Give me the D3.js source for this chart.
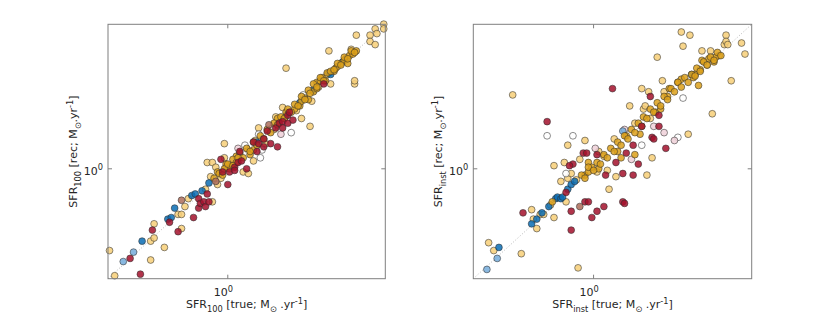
<!DOCTYPE html>
<html>
<head>
<meta charset="utf-8">
<script src="https://cdn.jsdelivr.net/npm/d3@7/dist/d3.min.js"></script>
<style>
  body { margin: 0; background: #fff; }
  text { font-family: "DejaVu Sans", sans-serif; fill: #262626; }
</style>
</head>
<body>
<div id="chart"></div>
<script>
// galaxy categories (colour groups of the markers)
const categories = ["pale", "gold", "red", "blue", "lightblue", "white", "pink", "brown"];
const catColors = ["#f7cf78", "#dca01a", "#a3112b", "#0a6db4", "#74acdb", "#ffffff", "#eed0d8", "#ad6d5a"];
// draw order, back to front
const drawOrder = [0, 5, 6, 3, 4, 1, 7, 2];

// axis limits (SFR, M_sun/yr) and ticks
const axisDomain = [0.2, 8.3];
const tickValues = [1];

// log10 SFR: [true, recovered, category]
const sfr100 = [
  [-0.69,-0.52,0],[-0.66,-0.68,0],[-0.61,-0.59,4],[-0.57,-0.57,2],[-0.55,-0.53,4],[-0.51,-0.67,2],[-0.50,-0.46,3],[-0.45,-0.46,0],[-0.45,-0.58,0],[-0.43,-0.44,0],
  [-0.43,-0.35,0],[-0.44,-0.39,2],[-0.37,-0.50,0],[-0.34,-0.34,2],[-0.35,-0.32,3],[-0.33,-0.31,3],[-0.31,-0.25,3],[-0.29,-0.29,0],[-0.27,-0.29,0],[-0.29,-0.40,2],
  [-0.27,-0.38,0],[-0.27,-0.20,7],[-0.25,-0.24,0],[-0.23,-0.19,0],[-0.21,-0.17,3],[-0.19,-0.16,3],[-0.20,-0.31,2],[-0.17,-0.25,2],[-0.17,-0.19,2],[-0.16,-0.22,2],
  [-0.14,-0.21,2],[-0.13,-0.24,2],[-0.11,-0.21,2],[-0.09,-0.21,0],[-0.15,-0.14,3],[-0.13,-0.13,0],[-0.12,-0.16,2],[-0.11,-0.09,3],[-0.10,-0.05,0],[-0.07,-0.08,7],
  [-0.06,-0.10,0],[-0.04,-0.06,0],[0.00,-0.10,2],[-0.12,0.04,0],[-0.09,0.04,0],[-0.07,0.01,0],[-0.06,-0.02,1],[-0.04,0.06,2],[-0.03,-0.02,2],[-0.02,0.07,0],
  [-0.02,0.16,0],[-0.01,0.01,0],[0.01,-0.02,2],[0.02,0.02,1],[0.04,0.01,2],[0.05,0.08,1],[0.06,0.04,2],[0.08,0.05,2],[0.04,-0.01,2],[0.09,-0.02,0],
  [0.11,0.00,2],[0.12,-0.03,0],[0.10,0.15,5],[0.06,0.13,6],[0.07,0.11,2],[0.11,0.13,0],[0.13,0.09,1],[0.15,0.05,0],[0.15,0.17,2],[0.15,0.12,1],
  [0.16,0.18,0],[0.17,0.11,2],[0.18,0.16,2],[0.19,0.07,5],[0.20,0.12,5],[0.21,0.14,2],[0.21,0.19,2],[0.22,0.16,0],[0.23,0.24,2],[0.25,0.16,2],
  [0.24,0.28,7],[0.18,0.26,0],[0.18,0.22,5],[0.26,0.26,6],[0.27,0.25,0],[0.28,0.26,2],[0.29,0.14,2],[0.30,0.29,2],[0.31,0.22,6],[0.32,0.30,2],
  [0.32,0.26,2],[0.33,0.32,0],[0.35,0.29,2],[0.28,0.33,0],[0.29,0.32,1],[0.34,0.36,1],[0.35,0.34,2],[0.36,0.36,2],[0.37,0.23,5],[0.38,0.31,2],
  [0.39,0.38,1],[0.40,0.37,0],[0.43,0.32,0],[0.48,0.27,0],[0.32,0.39,0],[0.34,0.64,0],[0.42,0.40,1],[0.43,0.43,1],[0.44,0.47,5],[0.45,0.45,1],
  [0.47,0.44,1],[0.49,0.43,0],[0.50,0.49,1],[0.52,0.51,1],[0.52,0.55,1],[0.53,0.52,0],[0.54,0.56,1],[0.55,0.58,1],[0.56,0.54,2],[0.57,0.56,1],
  [0.58,0.60,0],[0.60,0.54,0],[0.59,0.61,3],[0.62,0.62,1],[0.63,0.64,1],[0.64,0.65,0],[0.66,0.67,1],[0.67,0.68,3],[0.68,0.69,1],[0.69,0.70,0],
  [0.70,0.67,1],[0.71,0.72,1],[0.72,0.76,0],[0.73,0.73,1],[0.75,0.75,1],[0.74,0.54,0],[0.74,0.56,0],[0.59,0.75,0],[0.75,0.85,0],[0.83,0.85,0],
  [0.83,0.81,0],[0.86,0.79,0],[0.86,0.89,0],[0.87,0.86,0],[0.91,0.92,0],[0.91,0.89,0],
  [0.42,0.42,3],[0.50,0.50,3],[0.60,0.60,3],[0.34,0.34,3],[0.17,0.17,3],
  [-0.05,-0.03,1],[-0.03,-0.04,1],[-0.01,0.03,1],[0.01,0.00,1],[0.03,0.06,1],[0.05,0.04,1],[0.07,0.10,1],[0.09,0.07,1],[0.11,0.13,1],[0.13,0.11,1],
  [0.15,0.17,1],[0.17,0.15,1],[0.19,0.21,1],[0.21,0.19,1],[0.23,0.25,1],[0.25,0.23,1],[0.27,0.29,1],[0.29,0.28,1],[0.31,0.33,1],[0.33,0.32,1],
  [0.35,0.38,1],[0.37,0.36,1],[0.39,0.41,1],[0.41,0.40,1],[0.43,0.46,1],[0.45,0.44,1],[0.47,0.50,1],[0.48,0.48,1],[0.50,0.54,1],[0.52,0.52,1],
  [0.54,0.58,1],[0.56,0.56,1],[0.58,0.61,1],[0.60,0.62,1],[0.62,0.63,1],[0.64,0.67,1],[0.66,0.66,1],[0.68,0.71,1],[0.70,0.70,1],[0.72,0.75,1],
  [0.74,0.74,1],[-0.08,-0.06,1],[-0.02,0.00,1],[0.00,0.03,1],[0.03,0.02,1],[0.06,0.07,1]
];

const sfrInst = [
  [-0.62,-0.64,4],[-0.61,-0.47,0],[-0.58,-0.52,0],[-0.56,-0.57,4],[-0.55,-0.50,3],[-0.42,-0.54,0],[-0.47,0.47,0],[-0.41,-0.28,2],[-0.36,-0.26,0],[-0.36,-0.35,3],
  [-0.35,-0.32,0],[-0.33,-0.38,0],[-0.33,-0.32,3],[-0.31,-0.29,0],[-0.30,-0.28,3],[-0.29,-0.29,0],[-0.26,-0.24,3],[-0.25,-0.23,0],[-0.23,-0.31,0],[-0.24,-0.21,1],
  [-0.22,-0.19,3],[-0.21,-0.18,3],[-0.19,-0.19,3],[-0.18,-0.18,3],[-0.16,-0.21,0],[-0.16,-0.15,2],[-0.15,-0.13,3],[-0.13,-0.10,3],[-0.13,-0.27,2],[-0.13,-0.39,2],
  [-0.11,-0.08,3],[-0.10,-0.07,0],[-0.09,-0.63,0],[-0.08,-0.24,7],[-0.05,-0.21,2],[-0.03,-0.21,2],[-0.01,-0.31,2],[0.02,-0.27,2],[0.06,-0.24,2],[0.09,-0.13,0],
  [0.17,-0.21,2],[0.18,-0.22,2],[-0.19,-0.08,0],[-0.15,-0.06,0],[-0.13,-0.03,0],[-0.16,-0.03,5],[-0.17,0.04,0],[-0.12,0.03,2],[-0.14,0.02,2],[-0.23,0.02,0],
  [-0.27,0.30,2],[-0.27,0.21,5],[-0.15,0.15,0],[-0.12,0.21,5],[-0.08,0.06,0],[-0.06,0.10,2],[-0.05,0.18,0],[-0.04,0.10,2],[-0.03,0.04,1],[-0.05,-0.04,1],
  [-0.03,-0.02,1],[-0.01,0.01,1],[0.01,0.13,6],[0.02,0.09,2],[0.03,0.11,0],[0.03,0.00,1],[0.02,-0.02,0],[0.06,0.08,0],[0.07,-0.04,2],[0.08,-0.01,0],
  [0.11,0.51,2],[0.12,0.19,0],[0.13,0.04,2],[0.13,-0.05,0],[0.14,0.11,1],[0.16,0.07,1],[0.17,0.24,4],[0.17,-0.03,2],[0.19,0.10,2],[0.18,0.25,6],
  [0.19,0.21,1],[0.21,0.40,0],[0.22,0.06,6],[0.23,0.15,2],[0.23,-0.04,2],[0.24,0.09,1],[0.24,0.29,0],[0.26,0.03,2],[0.27,0.22,1],[0.28,0.27,2],
  [0.28,0.15,5],[0.28,0.51,0],[0.29,0.38,0],[0.30,0.40,0],[0.31,-0.04,0],[0.32,0.49,0],[0.33,0.32,0],[0.33,0.46,2],[0.34,0.20,2],[0.35,0.19,2],
  [0.35,0.27,6],[0.34,0.07,0],[0.36,0.36,1],[0.37,0.71,0],[0.38,0.34,2],[0.38,0.27,2],[0.39,0.38,1],[0.40,0.56,0],[0.41,0.49,0],[0.41,0.23,6],
  [0.42,0.13,2],[0.43,0.46,1],[0.44,0.51,1],[0.47,0.18,6],[0.49,0.20,5],[0.49,0.55,1],[0.51,0.57,1],[0.51,0.87,0],[0.52,0.78,0],[0.52,0.45,5],
  [0.55,0.22,0],[0.56,0.85,0],[0.57,0.60,3],[0.58,0.58,1],[0.59,0.60,1],[0.61,0.53,1],[0.62,0.63,1],[0.63,0.75,0],[0.63,0.69,1],[0.66,0.66,0],
  [0.68,0.75,0],[0.67,0.70,1],[0.69,0.35,0],[0.70,0.68,1],[0.71,0.71,1],[0.73,0.72,0],[0.76,0.79,0],[0.77,0.85,0],[0.77,0.81,0],[0.78,0.79,0],
  [0.80,0.56,0],[0.86,0.80,0],[0.88,0.73,0],
  [-0.07,-0.04,1],[-0.05,-0.06,1],[-0.03,0.01,1],[0.00,-0.01,1],[0.02,0.04,1],[0.04,0.03,1],[0.06,0.09,1],[0.08,0.07,1],[0.10,0.13,1],[0.12,0.11,1],
  [0.14,0.17,1],[0.16,0.15,1],[0.18,0.21,1],[0.20,0.19,1],[0.22,0.25,1],[0.24,0.23,1],[0.26,0.29,1],[0.28,0.27,1],[0.29,0.33,1],[0.31,0.32,1],
  [0.33,0.38,1],[0.35,0.36,1],[0.37,0.42,1],[0.39,0.40,1],[0.41,0.46,1],[0.43,0.44,1],[0.45,0.51,1],[0.47,0.49,1],[0.49,0.55,1],[0.51,0.52,1],
  [0.53,0.58,1],[0.55,0.55,1],[0.57,0.60,1],[0.59,0.59,1],[0.60,0.64,1],[0.62,0.62,1],[0.64,0.68,1],[0.66,0.66,1],[0.68,0.71,1],[0.70,0.69,1],
  [0.72,0.74,1],[0.74,0.72,1]
];

// axis labels: [text, "" | "sub" | "sup"]
const xLabel100 = [["SFR",""],["100","sub"],[" [true; M",""],["\u2299","sub"],[" .yr",""],["-1","sup"],["]",""]];
const yLabel100 = [["SFR",""],["100","sub"],[" [rec; M",""],["\u2299","sub"],[".yr",""],["-1","sup"],["]",""]];
const xLabelInst = [["SFR",""],["inst","sub"],[" [true; M",""],["\u2299","sub"],[" .yr",""],["-1","sup"],["]",""]];
const yLabelInst = [["SFR",""],["inst","sub"],[" [rec; M",""],["\u2299","sub"],[".yr",""],["-1","sup"],["]",""]];

const width = 830, height = 323;
const fontSize = 11;
const svg = d3.select("#chart").append("svg").attr("width", width).attr("height", height);

function richText(sel, parts, size) {
  let shift = 0;
  parts.forEach(([t, kind]) => {
    let target = kind === "sub" ? 3.5 : kind === "sup" ? -4.5 : 0;
    sel.append("tspan")
      .attr("dy", target - shift)
      .style("font-size", kind ? (size * 0.75) + "px" : size + "px")
      .text(t);
    shift = target;
  });
}

function panel(data, x0, x1, xLab, yLab) {
  const top = 24.3, bottom = 278.7;
  const x = d3.scaleLog().domain(axisDomain).range([x0, x1]);
  const y = d3.scaleLog().domain(axisDomain).range([bottom, top]);
  const g = svg.append("g");

  // one-to-one line
  g.append("line")
    .attr("x1", x(axisDomain[0])).attr("y1", y(axisDomain[0]))
    .attr("x2", x(axisDomain[1])).attr("y2", y(axisDomain[1]))
    .attr("stroke", "#9a9a9a").attr("stroke-width", 0.7).attr("stroke-dasharray", "1,2");

  const pts = data.slice().sort((a, b) => drawOrder.indexOf(a[2]) - drawOrder.indexOf(b[2]));
  g.selectAll("circle").data(pts).join("circle")
    .attr("cx", d => x(Math.pow(10, d[0])))
    .attr("cy", d => y(Math.pow(10, d[1])))
    .attr("r", 3.4)
    .attr("fill", d => catColors[d[2]])
    .attr("fill-opacity", 0.85)
    .attr("stroke", "#2e2e2e")
    .attr("stroke-width", 0.55);

  // frame
  g.append("rect")
    .attr("x", x0).attr("y", top).attr("width", x1 - x0).attr("height", bottom - top)
    .attr("fill", "none").attr("stroke", "#7f7f7f").attr("stroke-width", 1);

  tickValues.forEach(v => {
    const tx = x(v), ty = y(v);
    [[tx, bottom, tx, bottom - 4], [tx, top, tx, top + 4], [x0, ty, x0 + 4, ty], [x1, ty, x1 - 4, ty]]
      .forEach(l => g.append("line").attr("x1", l[0]).attr("y1", l[1]).attr("x2", l[2]).attr("y2", l[3])
        .attr("stroke", "#7f7f7f").attr("stroke-width", 1));
    const exp = Math.round(Math.log10(v));
    const bl = g.append("text").attr("x", tx - 4.5).attr("y", 296).attr("text-anchor", "middle");
    richText(bl, [["10", ""], [String(exp), "sup"]], fontSize);
    const ll = g.append("text").attr("x", x0 - 5).attr("y", ty + 6).attr("text-anchor", "end");
    richText(ll, [["10", ""], [String(exp), "sup"]], fontSize);
  });

  const xl = g.append("text").attr("x", (x0 + x1) / 2).attr("y", 308).attr("text-anchor", "middle");
  richText(xl, xLab, fontSize);
  const yl = g.append("text").attr("text-anchor", "middle")
    .attr("transform", `translate(${x0 - 31},${(top + bottom) / 2}) rotate(-90)`);
  richText(yl, yLab, fontSize);
}

panel(sfr100, 108, 385.3, xLabel100, yLabel100);
panel(sfrInst, 473.3, 751.7, xLabelInst, yLabelInst);
</script>
</body>
</html>
